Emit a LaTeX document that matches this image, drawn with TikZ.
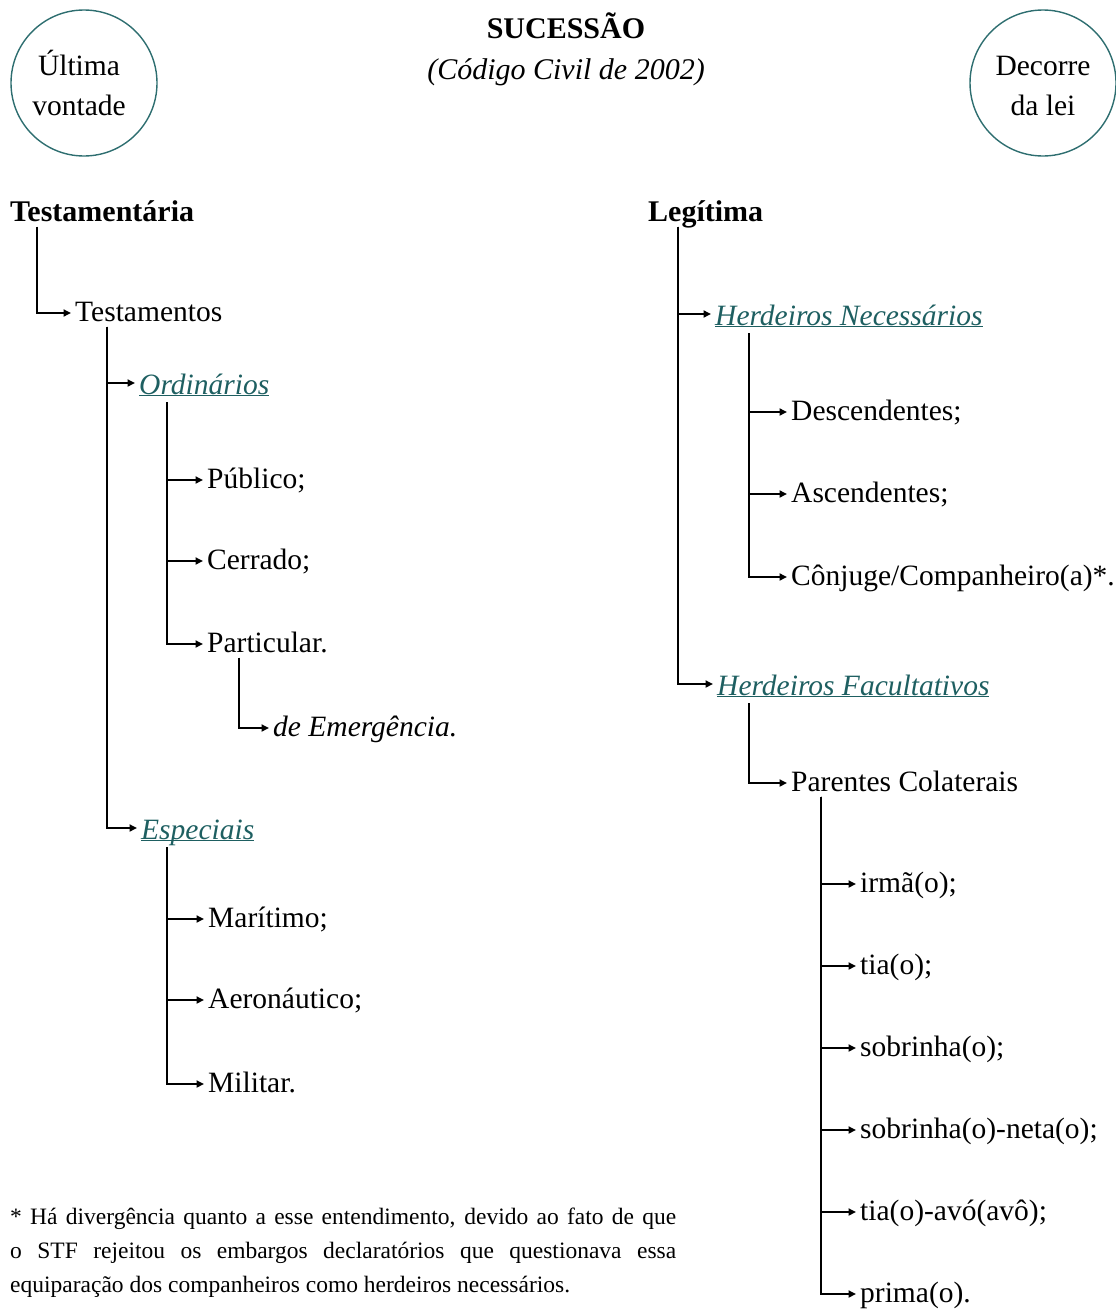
\documentclass[tikz,border=0pt]{standalone}
\usepackage{fontspec}
\setmainfont{Liberation Serif}
\usetikzlibrary{arrows.meta}
\definecolor{verde}{HTML}{1E5F61}
\definecolor{borda}{HTML}{2E6E70}
\tikzset{
  item/.style={anchor=west, inner xsep=4pt, inner ysep=1pt, text height=21pt, text depth=4pt, font=\fontsize{29.5}{41}\selectfont},
  topo/.style={item, font=\fontsize{30}{41}\selectfont\bfseries},
  ramo/.style={item, text height=29pt, text depth=7pt, text=verde, font=\fontsize{29.5}{41}\selectfont\itshape},
  liga/.style={line width=1.8pt, -{Triangle[length=7.5pt,width=7pt]}},
  bolha/.style={circle, draw=borda, line width=1.4pt, minimum size=146pt, inner sep=0pt, align=center, font=\fontsize{29.5}{40}\selectfont},
}
\newcommand{\sublinha}[1]{\underline{\smash{#1}}}
\begin{document}
\begin{tikzpicture}[x=1pt,y=1pt]
				\useasboundingbox (0,0) rectangle (1116,-1309);
				\node[bolha] (vontade) at (84,-83) {\hspace*{-10pt}Última\\\hspace*{-10pt}vontade};
				\node[bolha] (lei) at (1043,-83) {\vphantom{Ú}Decorre\\da lei};
				\node[anchor=base, font=\fontsize{30}{41}\selectfont\bfseries] (titulo) at (566,-38) {SUCESSÃO};
				\node[anchor=base, font=\fontsize{30}{41}\selectfont\itshape] (codigo) at (566,-79) {(Código Civil de 2002)};
				\node[topo] (testamentaria) at (6,-213) {Testamentária};
				\node[item] (testamentos) at (71,-313) {Testamentos};
				\node[ramo] (ordinarios) at (135,-383) {\sublinha{Ordinários}};
				\node[item] (publico) at (203,-480) {Público;};
				\node[item] (cerrado) at (203,-561) {Cerrado;};
				\node[item] (particular) at (203,-644) {Particular.};
				\node[item] (emergencia) at (269,-728) {\textit{de Emergência.}};
				\node[ramo] (especiais) at (137,-828) {\sublinha{Especiais}};
				\node[item] (maritimo) at (204,-919) {Marítimo;};
				\node[item] (aeronautico) at (204,-1000) {Aeronáutico;};
				\node[item] (militar) at (204,-1084) {Militar.};
				\node[topo] (legitima) at (644,-213) {Legítima};
				\node[ramo] (necessarios) at (711,-314) {\sublinha{Herdeiros Necessários}};
				\node[item] (descendentes) at (787,-412) {Descendentes;};
				\node[item] (ascendentes) at (787,-494) {Ascendentes;};
				\node[item] (conjuge) at (787,-577) {Cônjuge/Companheiro(a)*.};
				\node[ramo] (facultativos) at (713,-684) {\sublinha{Herdeiros Facultativos}};
				\node[item] (colaterais) at (787,-783) {Parentes Colaterais};
				\node[item] (irma) at (856,-884) {irmã(o);};
				\node[item] (tia) at (856,-966) {tia(o);};
				\node[item] (sobrinha) at (856,-1048) {sobrinha(o);};
				\node[item] (sobrineta) at (856,-1130) {sobrinha(o)-neta(o);};
				\node[item] (tiavo) at (856,-1212) {tia(o)-avó(avô);};
				\node[item] (prima) at (856,-1294) {prima(o).};
				\node[anchor=base west, inner sep=0pt, text width=666pt, align=justify, font=\fontsize{23.5}{34}\selectfont] (nota) at (10,-1224)
					{\hyphenpenalty=10000\tolerance=9999\emergencystretch=20pt
					 * Há divergência quanto a esse entendimento, devido ao fato de que\linebreak
					 o STF rejeitou os embargos declaratórios que questionava essa\linebreak
					 equiparação dos companheiros como herdeiros necessários.};
				\draw[liga] ([xshift=31pt]testamentaria.south west) |- (testamentos.west);
				\draw[liga] ([xshift=36pt]testamentos.south west) |- (ordinarios.west);
				\draw[liga] ([xshift=36pt]testamentos.south west) |- (especiais.west);
				\draw[liga] ([xshift=32pt]ordinarios.south west) |- (publico.west);
				\draw[liga] ([xshift=32pt]ordinarios.south west) |- (cerrado.west);
				\draw[liga] ([xshift=32pt]ordinarios.south west) |- (particular.west);
				\draw[liga] ([xshift=36pt]particular.south west) |- (emergencia.west);
				\draw[liga] ([xshift=30pt]especiais.south west) |- (maritimo.west);
				\draw[liga] ([xshift=30pt]especiais.south west) |- (aeronautico.west);
				\draw[liga] ([xshift=30pt]especiais.south west) |- (militar.west);
				\draw[liga] ([xshift=34pt]legitima.south west) |- (necessarios.west);
				\draw[liga] ([xshift=34pt]legitima.south west) |- (facultativos.west);
				\draw[liga] ([xshift=38pt]necessarios.south west) |- (descendentes.west);
				\draw[liga] ([xshift=38pt]necessarios.south west) |- (ascendentes.west);
				\draw[liga] ([xshift=38pt]necessarios.south west) |- (conjuge.west);
				\draw[liga] ([xshift=36pt]facultativos.south west) |- (colaterais.west);
				\draw[liga] ([xshift=34pt]colaterais.south west) |- (irma.west);
				\draw[liga] ([xshift=34pt]colaterais.south west) |- (tia.west);
				\draw[liga] ([xshift=34pt]colaterais.south west) |- (sobrinha.west);
				\draw[liga] ([xshift=34pt]colaterais.south west) |- (sobrineta.west);
				\draw[liga] ([xshift=34pt]colaterais.south west) |- (tiavo.west);
				\draw[liga] ([xshift=34pt]colaterais.south west) |- (prima.west);
			\end{tikzpicture}
\end{document}
